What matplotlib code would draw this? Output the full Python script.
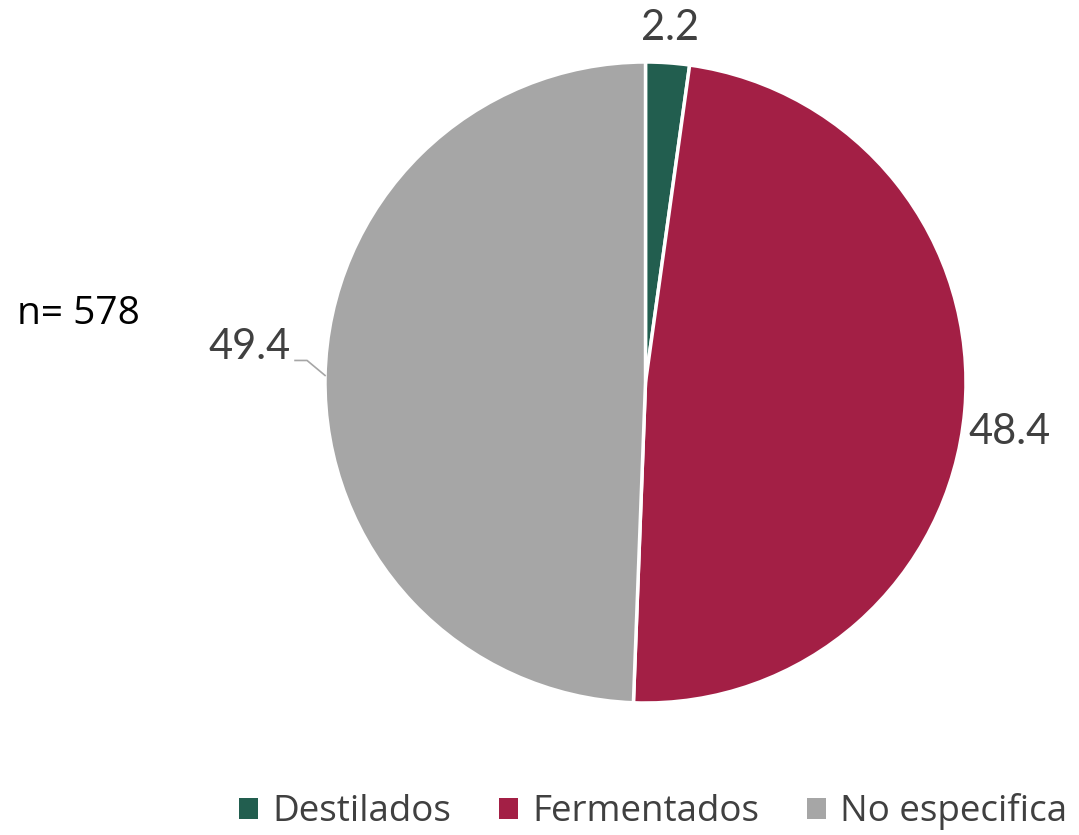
import numpy as np
import matplotlib.pyplot as plt
from matplotlib.patches import Patch

categories = ["Destilados", "Fermentados", "No especifica"]
values = [2.2, 48.4, 49.4]
colors = ["#225E4F", "#A31F45", "#A6A6A6"]
sample_note = "n= 578"

W, H = 1079, 835
fig = plt.figure(figsize=(W / 100, H / 100), dpi=100)
ax = fig.add_axes([0, 0, 1, 1])

cx, cy, R = 645.5, H - 382.5, 320.5
wedges, _ = ax.pie(values, colors=colors, startangle=90, counterclock=False,
                   center=(cx, cy), radius=R, frame=True,
                   wedgeprops=dict(edgecolor="white", linewidth=2.5))
ax.set_xlim(0, W)
ax.set_ylim(0, H)
ax.set_aspect("equal")
ax.set_axis_off()

txt = dict(fontsize=30, color="#404040", family=["Lato", "DejaVu Sans"])
# per-slice label distance and nudge (dx, dy) in pixels
label_r = [1.11, 1.15, 1.0]
nudge = [(0, 0), (-3, -17), (0, 0)]
for w, v, lr, (dx, dy) in zip(wedges, values, label_r, nudge):
    ang = np.deg2rad((w.theta1 + w.theta2) / 2)
    ex, ey = cx + R * np.cos(ang), cy + R * np.sin(ang)
    if np.cos(ang) < -0.9:
        # leader line for the left label
        ey += 1
        kx, ky = ex - 18, ey + 15
        hx = kx - 12
        ax.plot([ex, kx, hx], [ey, ky, ky], color="#A6A6A6", lw=1.2)
        ax.text(hx - 4, ky + 13, f"{v}", ha="right", va="center", **txt)
    else:
        ax.text(cx + R * lr * np.cos(ang) + dx, cy + R * lr * np.sin(ang) + dy,
                f"{v}", ha="center", va="center", **txt)

ax.text(78, H - 314, sample_note, ha="center", va="center", fontsize=28,
        color="black", family=["Open Sans", "DejaVu Sans"])

handles = [Patch(facecolor=c, edgecolor="none") for c in colors]
fig.legend(handles, categories, loc="lower right", bbox_to_anchor=(1.02, -0.034), ncol=3,
           frameon=False, handlelength=0.5, handleheight=0.5, handletextpad=0.4,
           columnspacing=1.3, prop=dict(family=["Open Sans", "DejaVu Sans"], size=26.5),
           labelcolor="#404040")

fig.savefig("out.png", dpi=100)
